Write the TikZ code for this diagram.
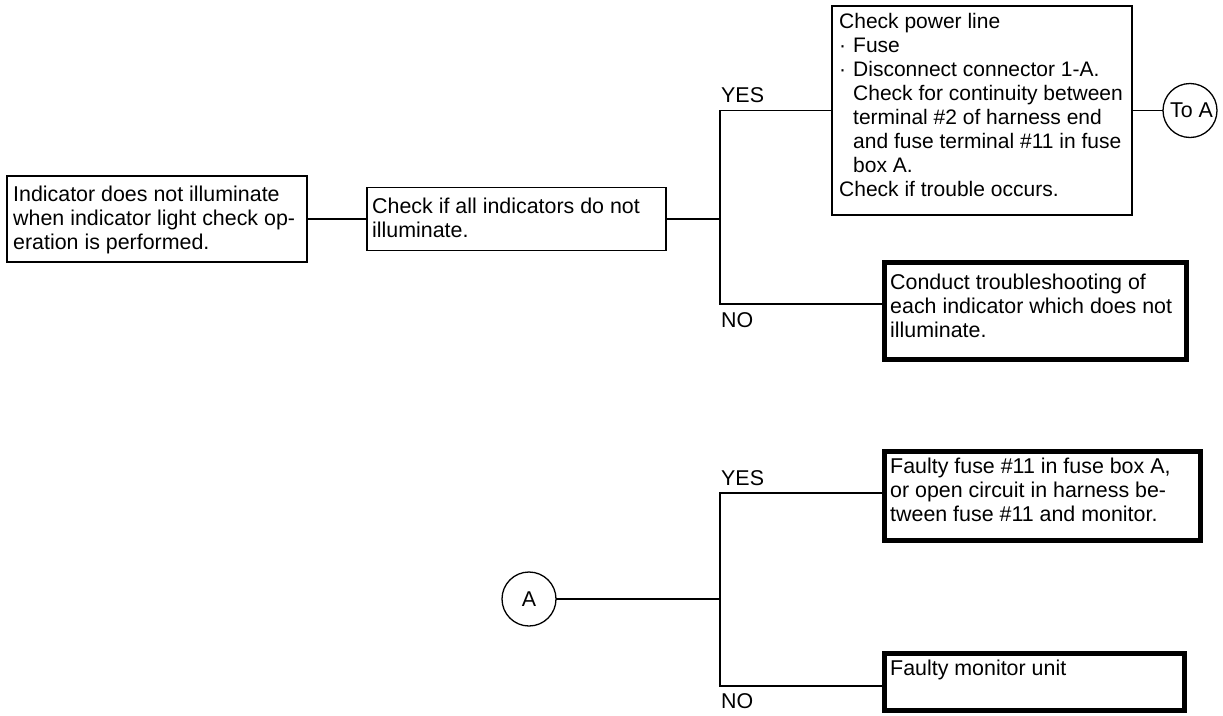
\documentclass[tikz,border=0pt]{standalone}
\usepackage{fontspec}
\setmainfont{Liberation Sans}
\usetikzlibrary{calc}
\tikzset{
  x=1pt, y=1pt,
  conn/.style={line width=1.3pt},
  thinbox/.style={draw, line width=1.8pt, anchor=north west, inner sep=0pt, outer sep=0pt},
  thickbox/.style={draw, line width=5pt, anchor=north west, inner sep=0pt, outer sep=0pt},
  txt/.style={anchor=north west, inner sep=0pt, align=left, font=\fontsize{21.4}{24}\selectfont},
  lbl/.style={anchor=north west, inner sep=0pt, font=\fontsize{21.4}{24}\selectfont},
  conncircle/.style={draw, circle, line width=1.3pt, minimum size=54pt, inner sep=0pt, outer sep=0pt, font=\fontsize{21.4}{24}\selectfont},
}
\begin{document}
\begin{tikzpicture}
\useasboundingbox (0,0) rectangle (1223,-715);

% boxes
\node[thinbox, minimum width=300pt, minimum height=86pt] (b1) at (7,-176) {};
\node[thinbox, minimum width=299pt, minimum height=63pt] (b2) at (367,-187.5) {};
\node[thinbox, minimum width=300pt, minimum height=209pt] (b3) at (832,-6) {};
\node[thickbox, minimum width=302pt, minimum height=97pt] (b4) at (884,-262) {};
\node[thickbox, minimum width=316pt, minimum height=89pt] (b5) at (884,-451) {};
\node[thickbox, minimum width=300pt, minimum height=57pt] (b6) at (884,-653) {};

% texts
\node[txt] (t1) at ($(b1.north west)+(6,-10)$) {Indicator does not illuminate\\when indicator light check op-\\eration is performed.};
\node[txt] (t2) at ($(b2.north west)+(5,-10)$) {Check if all indicators do not\\illuminate.};
\node[txt, font=\fontsize{21}{24}\selectfont] (t3) at ($(b3.north west)+(7,-7.5)$) {Check power line\\
\makebox[14pt][l]{·}Fuse\\
\makebox[14pt][l]{·}Disconnect connector 1-A.\\
\hspace*{14pt}Check for continuity between\\
\hspace*{14pt}terminal \#2 of harness end\\
\hspace*{14pt}and fuse terminal \#11 in fuse\\
\hspace*{14pt}box A.\\
Check if trouble occurs.};
\node[txt] (t4) at ($(b4.north west)+(6,-12)$) {Conduct troubleshooting of\\each indicator which does not\\illuminate.};
\node[txt] (t5) at ($(b5.north west)+(6,-7)$) {Faulty fuse \#11 in fuse box A,\\or open circuit in harness be-\\tween fuse \#11 and monitor.};
\node[txt] (t6) at ($(b6.north west)+(6,-7)$) {Faulty monitor unit};

% circles
\node[conncircle] (toA) at (1190,-110.5) {\hspace*{3pt}To A};
\node[conncircle] (cA) at (529,-599) {A};

% junctions
\coordinate (j1) at (720,-219);
\coordinate (yes1) at (720,-110.5);
\coordinate (no1) at (720,-304);
\coordinate (j2) at (720,-599);
\coordinate (yes2) at (720,-493);
\coordinate (no2) at (720,-686);

% connectors
\draw[conn] (b1.east) -- (b2.west);
\draw[conn] (b2.east) -- (j1);
\draw[conn] (b3.west) -- (yes1) -- (no1) -- (no1 -| b4.west);
\draw[conn] (b3.east) -- (toA.west);
\draw[conn] (cA.east) -- (j2);
\draw[conn] (yes2 -| b5.west) -- (yes2) -- (no2) -- (no2 -| b6.west);

% labels
\node[lbl] (y1) at (721,-87) {YES};
\node[lbl] (n1) at (721,-312) {NO};
\node[lbl] (y2) at (721,-470) {YES};
\node[lbl] (n2) at (721,-693) {NO};
\end{tikzpicture}
\end{document}
